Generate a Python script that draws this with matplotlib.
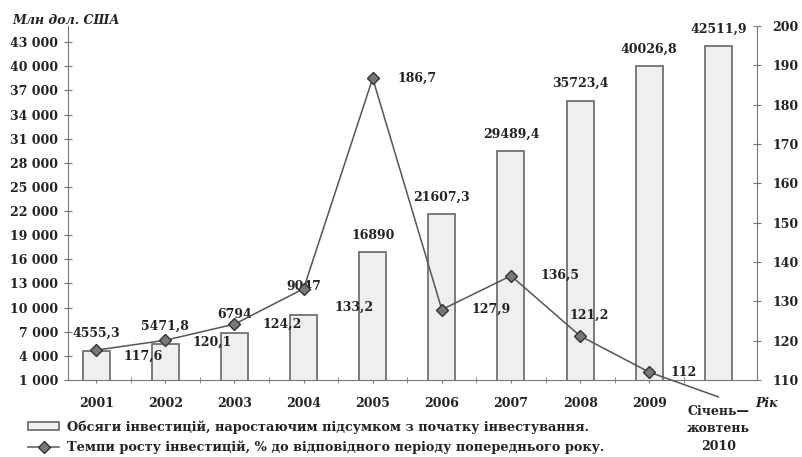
import numpy as np
import matplotlib.pyplot as plt

# data
years = ['2001', '2002', '2003', '2004', '2005', '2006', '2007', '2008', '2009', '2010']
volume = [4555.3, 5471.8, 6794, 9047, 16890, 21607.3, 29489.4, 35723.4, 40026.8, 42511.9]
volume_lbl = ['4555,3', '5471,8', '6794', '9047', '16890', '21607,3', '29489,4',
              '35723,4', '40026,8', '42511,9']
growth = [117.6, 120.1, 124.2, 133.2, 186.7, 127.9, 136.5, 121.2, 112, 105.7]
growth_lbl = ['117,6', '120,1', '124,2', '133,2', '186,7', '127,9', '136,5', '121,2', '112']

plt.rcParams['font.family'] = 'DejaVu Serif'
plt.rcParams['font.weight'] = 'bold'
txt = '#222222'

fig = plt.figure(figsize=(8.02, 4.57), dpi=100)
ax = fig.add_axes([0.085, 0.1685, 0.859, 0.7745])
x = np.arange(len(years))

bars = ax.bar(x, volume, width=0.39, color='#efefef', edgecolor='#666666',
              linewidth=1.2, zorder=2,
              label='Обсяги інвестицій, наростаючим підсумком з початку інвестування.')
ax.set_xlim(-0.405, 9.56)
ax.set_ylim(1000, 45000)
ax.set_yticks(np.arange(1000, 43001, 3000))
ax.set_yticklabels(['{:,}'.format(v).replace(',', ' ') for v in range(1000, 43001, 3000)])

# bar value labels
bar_dy = [18, 18, 19, 29, 17, 17, 17, 17, 17, 17]
for i, v in enumerate(volume):
    ax.annotate(volume_lbl[i], (x[i], v), xytext=(0, bar_dy[i]), textcoords='offset pixels',
                ha='center', va='center', fontsize=9, color=txt, zorder=5)

ax.set_xticks(x[:9])
ax.set_xticklabels(years[:9], fontsize=9, color=txt)
ax.set_xticks(x[:9] + 0.5, minor=True)
ax.tick_params(axis='x', which='both', length=5, direction='inout', color='#777777', pad=10)
ax.tick_params(axis='y', length=6, direction='inout', color='#777777', labelsize=9,
               labelcolor=txt, pad=4)
for s in ['top', 'right']:
    ax.spines[s].set_visible(False)
for s in ['left', 'bottom']:
    ax.spines[s].set_color('#777777')

ax2 = ax.twinx()
ax2.set_ylim(110, 200)
ax2.set_yticks(np.arange(110, 201, 10))
ax2.tick_params(axis='y', length=6, direction='inout', color='#777777', labelsize=9,
                labelcolor=txt, pad=8)
for s in ['top', 'left', 'bottom']:
    ax2.spines[s].set_visible(False)
ax2.spines['right'].set_color('#777777')

ax2.plot(x, growth, color='#555555', lw=1.1, marker='D', markersize=6,
         markerfacecolor='#777777', markeredgecolor='#333333', markevery=list(range(9)),
         clip_on=False, zorder=3,
         label='Темпи росту інвестицій, % до відповідного періоду попереднього року.')

line_off = [(47, -6), (47, -2), (48, 0), (50, -19), (44, 0), (49, 0), (49, 0), (9, 21), (34, 0)]
for i, lbl in enumerate(growth_lbl):
    ax2.annotate(lbl, (x[i], growth[i]), xytext=line_off[i], textcoords='offset pixels',
                 ha='center', va='center', fontsize=9, color=txt, zorder=5)

fig.text(0.015, 0.955, 'Млн дол. США', fontsize=9, style='italic', color=txt,
         ha='left', va='center')
fig.text(0.942, 0.118, 'Рік', fontsize=9, style='italic', color=txt, ha='left', va='center')
ax.annotate('Січень—\nжовтень\n2010', (x[9], 1000), xytext=(0, -25), textcoords='offset pixels',
            ha='center', va='top', fontsize=9, color=txt, linespacing=1.45,
            annotation_clip=False)

h1, l1 = ax.get_legend_handles_labels()
h2, l2 = ax2.get_legend_handles_labels()
leg = fig.legend(h1 + h2, l1 + l2, loc='upper left', bbox_to_anchor=(0.027, 0.095),
                 frameon=False, fontsize=9.3, handlelength=2.4, handleheight=0.5,
                 labelspacing=0.55, borderpad=0, handletextpad=0.6)
for t in leg.get_texts():
    t.set_color(txt)

fig.savefig('out.png', dpi=100)
